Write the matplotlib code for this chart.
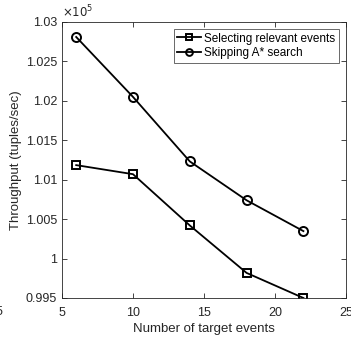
import matplotlib
matplotlib.use("Agg")
import matplotlib.pyplot as plt
from matplotlib.ticker import FixedLocator, FixedFormatter

plt.rcParams['font.family'] = ['Liberation Sans', 'DejaVu Sans']

target_events = [6, 10, 14, 18, 22]
selecting = [1.01185, 1.0107, 1.0042, 0.99818, 0.9950]   # x 1e5
skipping = [1.0281, 1.0205, 1.01232, 1.00739, 1.00348]   # x 1e5

xticks = [5, 10, 15, 20, 25]
yticks = [0.995, 1.0, 1.005, 1.01, 1.015, 1.02, 1.025, 1.03]
ytick_labels = ["0.995", "1", "1.005", "1.01", "1.015", "1.02", "1.025", "1.03"]

gray = "#262626"

fig = plt.figure(figsize=(3.51, 3.43), dpi=100)
ax = fig.add_axes([0.1766, 0.1312, 0.8092, 0.8047])

ax.plot(target_events, selecting, color="black", lw=1.3, marker="s", ms=5.5,
        mfc="none", mec="black", mew=1.4, label="Selecting relevant events")
ax.plot(target_events, skipping, color="black", lw=1.3, marker="o", ms=6.5,
        mfc="none", mec="black", mew=1.4, label="Skipping A* search")

ax.set_xlim(5, 25)
ax.set_ylim(0.995, 1.03)
ax.xaxis.set_major_locator(FixedLocator(xticks))
ax.yaxis.set_major_locator(FixedLocator(yticks))
ax.yaxis.set_major_formatter(FixedFormatter(ytick_labels))
ax.tick_params(direction="in", top=True, right=True, length=3.5, width=0.6,
               colors=gray, labelsize=9, labelcolor=gray, pad=3.5)
ax.tick_params(axis="x", pad=6.5)
for s in ax.spines.values():
    s.set_color(gray)
    s.set_linewidth(0.6)

ax.set_xlabel("Number of target events", fontsize=9.5, color=gray, labelpad=3)
ax.set_ylabel("Throughput (tuples/sec)", fontsize=9.5, color=gray, labelpad=3)
ax.text(0.0, 1.005, r"$\times10^5$", transform=ax.transAxes, fontsize=8.5,
        color=gray, ha="left", va="bottom")

leg = ax.legend(loc="upper right", fontsize=8.5, frameon=True, fancybox=False,
                borderpad=0.3, handlelength=2.0, handletextpad=0.3,
                labelspacing=0.2, borderaxespad=0.6, markerscale=0.75)
leg.get_frame().set_edgecolor(gray)
leg.get_frame().set_linewidth(0.6)

# clipped tick label from a neighbouring panel
fig.text(-0.012, 0.09, "5", fontsize=9, color=gray, ha="left", va="center")

fig.savefig("out.png", dpi=100)
